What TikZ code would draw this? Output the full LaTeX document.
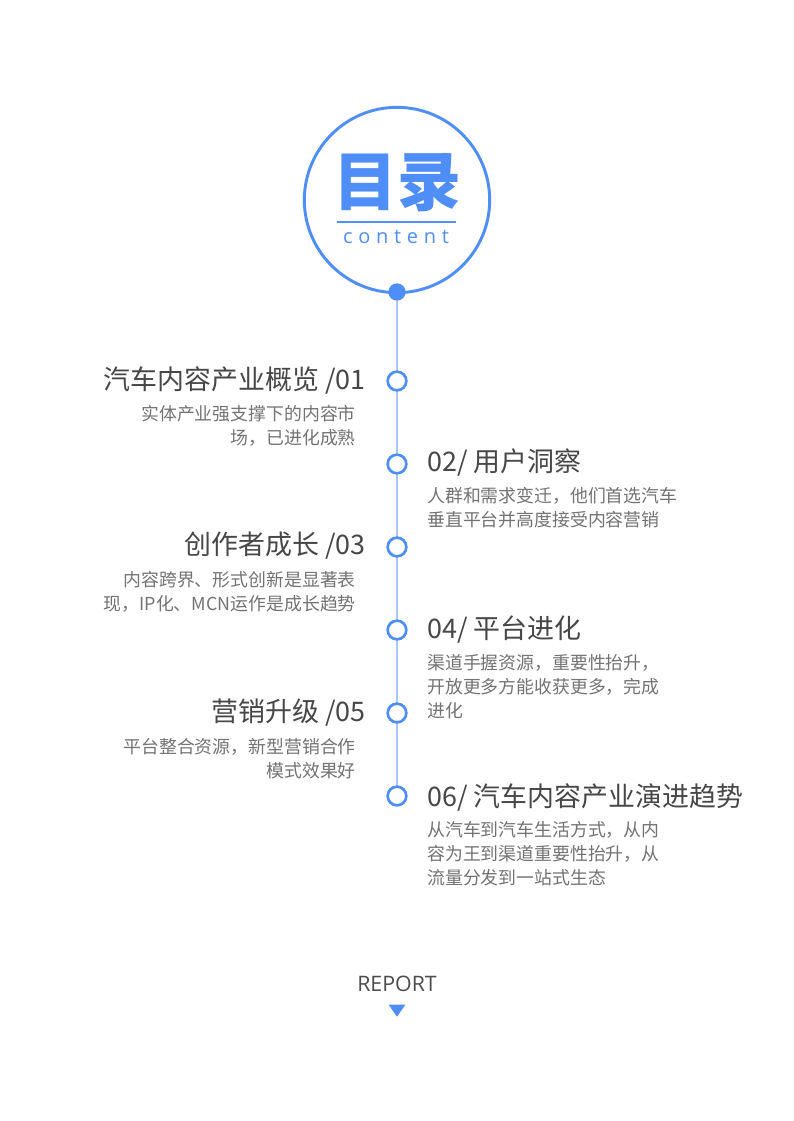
\documentclass[tikz,border=0pt]{standalone}
\usepackage{fontspec}
\usetikzlibrary{shapes.geometric}
\setmainfont{Noto Sans CJK SC}
\newfontfamily\latinf{Open Sans}
\begin{document}
\begin{tikzpicture}[x=0.75pt,y=-0.75pt,
  title/.style={text=black!72,font=\fontsize{20.2}{22}\selectfont,inner sep=0pt},
  desc/.style={text=black!55,font=\fontsize{13.4}{18}\selectfont,inner sep=0pt},
  ring/.style={circle,draw=myblue,line width=2pt,fill=white,minimum size=14pt,inner sep=0pt}]
\definecolor{myblue}{HTML}{4F8EF7}
\definecolor{lineblue}{HTML}{A9C8F8}
\useasboundingbox[fill=white] (0,0) rectangle (793,1121);
\node[circle,draw=myblue,line width=2.2pt,minimum size=139pt] (big) at (397,200) {};
\node[text=myblue,font=\fontsize{48}{48}\selectfont\bfseries,inner sep=0pt] (mulu) at (397,183) {目录};
\draw[myblue,line width=2pt] (337,222) -- (456,222);
\node[text=myblue,font=\latinf\fontsize{15}{15}\selectfont,inner sep=0pt] (ct) at (396,237) {c\hspace{4.3pt}o\hspace{4.3pt}n\hspace{4.3pt}t\hspace{4.3pt}e\hspace{4.3pt}n\hspace{4.3pt}t};
\node[circle,fill=myblue,minimum size=13pt,inner sep=0pt] (dot) at (397,292) {};
\coordinate (end) at (397,805);
\draw[lineblue,line width=1.6pt] (dot) -- (end);
\foreach \i/\y in {1/381,2/464,3/547,4/630,5/713,6/796}{\node[ring] (r\i) at (397,\y) {};}
% left
\node[title,anchor=east] (t1) at (366,380) {汽车内容产业概览 /01};
\node[desc,anchor=north east,align=right] (d1) at (356,405) {实体产业强支撑下的内容市\\场，已进化成熟};
\node[title,anchor=east] (t3) at (366,546) {创作者成长 /03};
\node[desc,anchor=north east,align=right] (d3) at (356,571) {内容跨界、形式创新是显著表\\现，IP化、MCN运作是成长趋势};
\node[title,anchor=east] (t5) at (366,713) {营销升级 /05};
\node[desc,anchor=north east,align=right] (d5) at (356,738) {平台整合资源，新型营销合作\\模式效果好};
% right
\node[title,anchor=west] (t2) at (427,463) {02/ 用户洞察};
\node[desc,anchor=north west,align=left] (d2) at (427,487) {人群和需求变迁，他们首选汽车\\垂直平台并高度接受内容营销};
\node[title,anchor=west] (t4) at (427,630) {04/ 平台进化};
\node[desc,anchor=north west,align=left] (d4) at (427,654) {渠道手握资源，重要性抬升，\\开放更多方能收获更多，完成\\进化};
\node[title,anchor=west] (t6) at (427,797) {06/ 汽车内容产业演进趋势};
\node[desc,anchor=north west,align=left] (d6) at (427,821) {从汽车到汽车生活方式，从内\\容为王到渠道重要性抬升，从\\流量分发到一站式生态};
\node[text=black!70,font=\latinf\fontsize{16}{16}\selectfont,inner sep=0pt] (rep) at (397,984) {REPORT};
\node[fill=myblue,isosceles triangle,isosceles triangle apex angle=70,shape border rotate=-90,minimum height=9pt,minimum width=11pt,inner sep=0pt] (tri) at (397,1009) {};
\end{tikzpicture}
\end{document}
